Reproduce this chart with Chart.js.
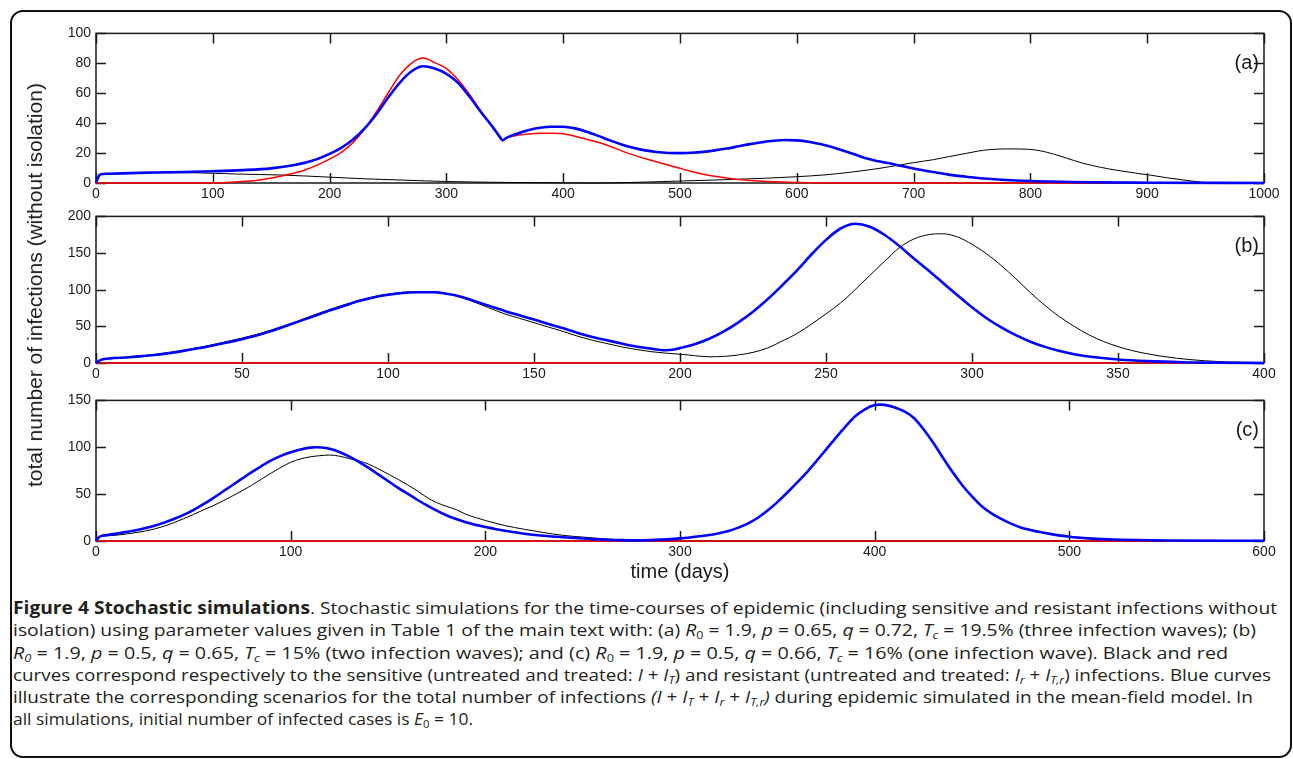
<!DOCTYPE html>
<html>
<head>
<meta charset="utf-8">
<script src="https://cdn.jsdelivr.net/npm/chart.js@4.4.1/dist/chart.umd.min.js"></script>
<style>
html, body { margin: 0; padding: 0; background: #fff; }
body { width: 1293px; height: 759px; position: relative; overflow: hidden; font-family: "Liberation Sans", Arial, sans-serif; color: #1a1a1a; }
#outer { position: absolute; left: 10px; top: 10px; width: 1278px; height: 744px; border: 2px solid #111; border-radius: 13px; }
canvas.panel { position: absolute; left: 0; }
#ytitle { position: absolute; left: 35px; top: 285px; font-size: 21px; white-space: nowrap; transform: translate(-50%, -50%) rotate(-90deg); }
#xtitle { position: absolute; left: 680px; top: 571px; font-size: 20px; white-space: nowrap; transform: translate(-50%, -50%); }
.cap { position: absolute; left: 13px; font-family: "Open Sans", sans-serif; font-size: 17px; line-height: 22px; white-space: nowrap; transform-origin: 0 50%; color: #231f20; }
.cap sub { font-size: 11px; vertical-align: -3px; line-height: 0; }
</style>
</head>
<body>
<div id="outer"></div>
<canvas class="panel" id="chartA"></canvas>
<canvas class="panel" id="chartB"></canvas>
<canvas class="panel" id="chartC"></canvas>
<div id="ytitle">total number of infections (without isolation)</div>
<div id="xtitle">time (days)</div>

<div class="cap" data-end="1277" style="top:597px"><b>Figure 4 Stochastic simulations</b>. Stochastic simulations for the time-courses of epidemic (including sensitive and resistant infections without</div>
<div class="cap" data-end="1256" style="top:619px">isolation) using parameter values given in Table 1 of the main text with: (a) <i>R</i><sub>0</sub> = 1.9, <i>p</i> = 0.65, <i>q</i> = 0.72, <i>T<sub>c</sub></i> = 19.5% (three infection waves); (b)</div>
<div class="cap" data-end="1228" style="top:642px"><i>R<sub>0</sub></i> = 1.9, <i>p</i> = 0.5, <i>q</i> = 0.65, <i>T<sub>c</sub></i> = 15% (two infection waves); and (c) <i>R</i><sub>0</sub> = 1.9, <i>p</i> = 0.5, <i>q</i> = 0.66, <i>T<sub>c</sub></i> = 16% (one infection wave). Black and red</div>
<div class="cap" data-end="1271" style="top:664px">curves correspond respectively to the sensitive (untreated and treated: <i>I</i> + <i>I<sub>T</sub></i>) and resistant (untreated and treated: <i>I<sub>r</sub></i> + <i>I<sub>T,r</sub></i>) infections. Blue curves</div>
<div class="cap" data-end="1253" style="top:686px">illustrate the corresponding scenarios for the total number of infections <i>(I</i> + <i>I<sub>T</sub></i> + <i>I<sub>r</sub></i> + <i>I<sub>T,r</sub>)</i> during epidemic simulated in the mean-field model. In</div>
<div class="cap" data-end="473" style="top:708px">all simulations, initial number of infected cases is <i>E</i><sub>0</sub> = 10.</div>

<script>
// ==========================================
// DATA  (time in days, number of infections)
// ==========================================

// panel (a): R0 = 1.9, p = 0.65, q = 0.72, Tc = 19.5%
const blueA = [[0,0],[2,4],[4,5.8],[10,6.2],[30,6.6],[50,7],[75,7.4],[100,7.9],[125,8.6],[150,9.8],[170,12],[185,14.8],[200,19.5],[210,23.5],[220,29],[230,36.5],[240,46],[250,57],[260,67],[270,74.5],[280,78],[290,76.5],[300,73],[310,67],[320,57.5],[330,47],[340,37],[346,30.5],[348,28.5],[351,30],[360,32.8],[370,35.3],[380,36.9],[390,37.6],[400,37.6],[410,36.5],[420,34.3],[430,31.5],[440,28.5],[450,25.8],[460,23.6],[470,21.8],[480,20.7],[490,20.1],[500,20],[510,20.2],[520,20.8],[530,21.8],[540,23],[550,24.5],[560,26],[570,27.2],[580,28.2],[590,28.7],[600,28.5],[610,27.6],[620,26],[630,24],[640,21.5],[650,19],[660,16.3],[670,14.5],[680,13],[690,11.3],[700,9.7],[710,8.2],[720,6.9],[730,5.6],[740,4.6],[750,3.8],[760,3],[775,2.2],[800,1.3],[850,0.5],[900,0.2],[1000,0]];
const redA = [[0,0],[100,0],[120,0.7],[140,2],[160,4.8],[180,9],[200,16],[210,20.5],[220,27],[230,36],[240,47.5],[250,60],[260,72],[270,80],[280,83.5],[290,80.5],[300,76.5],[310,69],[320,59],[330,47.5],[340,37],[346,30.5],[348,28.5],[351,30],[360,31.8],[370,32.8],[380,33.3],[390,33.3],[400,33],[410,31.3],[420,29.2],[430,27.2],[440,24.6],[450,21.5],[460,18.8],[470,16.4],[480,14.2],[490,12],[500,9.8],[510,7.7],[520,5.9],[530,4.5],[540,3.3],[550,2.4],[560,1.7],[575,1],[600,0.4],[650,0],[1000,0]];
const blackA = [[0,0],[2,4],[4,5.6],[20,6.2],[50,6.9],[85,6.8],[120,6],[160,5.3],[200,3.9],[230,2.8],[260,2],[300,1],[350,0.4],[400,0.1],[430,0],[470,0.6],[500,1.3],[550,2.5],[600,4.2],[625,5.5],[646,7.2],[660,8.6],[671,9.8],[688,12],[700,13.6],[717,15.6],[730,17.6],[745,19.8],[755,21.3],[765,22.3],[780,22.8],[799,22.5],[810,21.3],[820,19.3],[831,16.6],[845,13.2],[860,10.5],[874,8.5],[890,6.6],[903,5.2],[917,3.5],[931,2],[948,0.5],[960,0],[1000,0]];

// panel (b): R0 = 1.9, p = 0.5, q = 0.65, Tc = 15%
const blueB = [[0,0],[1.5,4],[3,5.5],[5,6.3],[10,7.6],[15,9],[20,11],[25,13.5],[30,16.5],[35,20],[40,24],[45,28],[50,32.5],[55,37.5],[60,43.5],[65,50.5],[70,57.5],[75,64.5],[80,71.5],[85,78],[90,84.5],[95,89.5],[100,93],[105,95.5],[110,96.5],[115,96.5],[120,94.5],[125,90.5],[130,84],[135,77.5],[140,71],[145,65],[150,59.3],[155,53.3],[160,47.3],[165,41],[170,35.5],[175,31],[180,26.5],[185,22.5],[190,19.6],[195,17.3],[198,18.3],[200,20.3],[205,25.5],[210,33],[215,43],[220,55.5],[225,70],[230,87],[235,106],[240,126],[245,148],[250,168],[255,183.5],[260,190],[265,186],[270,175],[275,160],[280,143],[285,126.5],[290,109.5],[295,92.5],[300,76],[305,61],[310,48.5],[315,38],[320,29],[325,22],[330,16.5],[335,12],[340,8.8],[350,4.8],[360,2.5],[372,1],[385,0.4],[400,0.1]];
const redB = [[0,0],[100,0],[200,0],[300,0],[400,0]];
const blackB = [[0,0],[1.5,4],[3,5.5],[5,6.5],[10,8],[15,9.5],[20,11.5],[25,14],[30,17.5],[35,21],[40,25],[45,29.5],[50,34],[55,39],[60,45],[65,51.5],[70,58.5],[75,66],[80,73],[85,79.5],[90,85.5],[95,90.5],[100,94],[105,96.5],[110,97.5],[115,97.5],[120,95],[125,89.5],[130,82.5],[135,74.5],[140,67],[145,61],[150,55],[155,49],[160,43],[165,36.5],[170,31],[175,26.5],[180,22],[185,18.5],[190,15.5],[195,13.5],[200,12],[205,10],[210,8.5],[215,9],[220,11],[225,14.5],[230,20.5],[235,30],[240,40],[245,53],[250,67],[255,82],[258,92.5],[262,108],[265,119.5],[270,138.5],[275,157],[280,169],[285,175],[290,176.3],[295,172],[300,162],[305,149],[310,133],[315,115],[320,96],[325,78.5],[330,63],[335,50],[340,38.5],[345,29.5],[350,22.3],[355,16.8],[360,12.6],[365,9.2],[370,6.5],[375,4.5],[380,3],[385,1.8],[390,1.1],[400,0.3]];

// panel (c): R0 = 1.9, p = 0.5, q = 0.66, Tc = 16%
const blueC = [[0,0],[1.5,4],[3,5.5],[5,6.2],[10,7.8],[15,9.5],[20,11.3],[25,13.6],[30,16.3],[35,19.6],[40,23.4],[45,27.8],[50,33],[55,39],[60,45.5],[65,52.5],[70,59.5],[75,66.5],[80,73.5],[85,80],[90,86],[95,90.8],[100,94.6],[105,97.6],[110,99.6],[113,100],[116,99.7],[120,98.3],[125,95],[130,90.3],[135,84.5],[140,78],[145,71],[150,64],[155,57],[160,50.5],[165,44],[170,38],[175,32.5],[180,27.5],[185,23.5],[190,20],[195,17.2],[200,15],[205,12.8],[210,11],[220,7.8],[230,5.6],[240,4],[250,2.7],[260,1.6],[270,0.9],[280,0.7],[290,1.5],[295,2],[300,2.8],[305,3.8],[310,5],[315,6.4],[320,8.3],[325,10.8],[330,14.3],[335,18.8],[340,24.8],[345,32.5],[350,41.5],[355,51.5],[360,62],[365,73],[370,85],[375,97.5],[380,110],[385,122],[390,133],[395,140.5],[400,145],[403,145.5],[405,145.2],[410,142.8],[415,138.5],[420,131.5],[425,119.5],[430,105],[435,89],[440,73.5],[445,59.5],[450,47.5],[455,37],[460,29.5],[465,23.5],[470,18.5],[475,14.5],[480,11.8],[485,9.5],[490,7.6],[500,4.6],[510,2.8],[520,1.8],[535,1],[550,0.6],[600,0.2]];
const redC = [[0,0],[150,0],[300,0],[450,0],[600,0]];
const blackC = [[0,0],[1.5,4],[3,5],[5,5.4],[10,6.1],[15,7.3],[20,8.8],[25,10.5],[30,12.8],[35,15.8],[40,19.5],[45,23.8],[50,28.3],[55,33],[60,37.5],[65,42.5],[70,48],[75,53.5],[80,59.5],[85,66],[90,72.5],[95,78.5],[100,84],[105,87.5],[110,89.8],[115,91],[120,91.7],[125,90.5],[130,88],[135,85.5],[140,82],[145,77],[150,71.5],[155,66],[160,60],[165,53.5],[170,46.5],[175,41],[180,37],[185,33.5],[190,28.5],[195,25],[200,21.9],[210,16.5],[220,12.5],[230,9],[240,6],[250,4.2],[260,2.5],[270,1.2],[280,0.4],[290,0.1],[300,0],[600,0]];

// axes
const panelLabels = ['(a)', '(b)', '(c)'];
const xMaxes = [1000, 400, 600];
const xSteps = [100, 50, 100];
const yMaxes = [100, 200, 150];
const ySteps = [20, 50, 50];

// ==========================================
// LAYOUT (pixel boxes of each panel)
// ==========================================
const PLOT_LEFT = 96;
const PLOT_RIGHT = 1264;
const PAGE_W = 1293;
const boxes = [
    { id: 'chartA', top: 20, height: 185, plotTop: 32, plotBottom: 183 },
    { id: 'chartB', top: 203, height: 180, plotTop: 213, plotBottom: 363 },
    { id: 'chartC', top: 387, height: 175, plotTop: 397, plotBottom: 541 }
];

const TEXT_COLOR = '#1a1a1a';
const TICK_FONT = { family: 'Liberation Sans', size: 14 };

// frame + inward ticks on four sides (under the curves), panel letter on top
const framePlugin = {
    id: 'frame',
    beforeDatasetsDraw(chart) {
        const { ctx, chartArea: a, scales } = chart;
        const len = 10;
        ctx.save();
        ctx.strokeStyle = '#1a1a1a';
        ctx.lineWidth = 1.5;
        ctx.strokeRect(a.left, a.top, a.right - a.left, a.bottom - a.top);
        ctx.beginPath();
        scales.x.ticks.forEach(t => {
            const px = Math.round(scales.x.getPixelForValue(t.value)) + 0.5;
            ctx.moveTo(px, a.bottom); ctx.lineTo(px, a.bottom - len);
            ctx.moveTo(px, a.top); ctx.lineTo(px, a.top + len);
        });
        scales.y.ticks.forEach(t => {
            const py = Math.round(scales.y.getPixelForValue(t.value)) + 0.5;
            ctx.moveTo(a.left, py); ctx.lineTo(a.left + len, py);
            ctx.moveTo(a.right, py); ctx.lineTo(a.right - len, py);
        });
        ctx.stroke();
        ctx.restore();
    },
    afterDraw(chart, args, opts) {
        const { ctx, chartArea: a } = chart;
        ctx.save();
        ctx.fillStyle = TEXT_COLOR;
        ctx.font = '20px "Liberation Sans", Arial, sans-serif';
        ctx.textAlign = 'right';
        ctx.textBaseline = 'middle';
        ctx.fillText(opts.label, a.right - 5, a.top + 30);
        ctx.restore();
    }
};

const toPoints = arr => arr.map(p => ({ x: p[0], y: p[1] }));

const makeSeries = (pts, color, width) => ({
    data: toPoints(pts),
    borderColor: color,
    borderWidth: width,
    pointRadius: 0,
    fill: false,
    cubicInterpolationMode: 'monotone',
    clip: 4
});

const panelData = [
    [blueA, redA, blackA],
    [blueB, redB, blackB],
    [blueC, redC, blackC]
];

boxes.forEach((b, i) => {
    const canvas = document.getElementById(b.id);
    canvas.style.top = b.top + 'px';
    canvas.width = PAGE_W;
    canvas.height = b.height;
    canvas.style.width = PAGE_W + 'px';
    canvas.style.height = b.height + 'px';

    const [blue, red, black] = panelData[i];

    new Chart(canvas.getContext('2d'), {
        type: 'line',
        data: {
            // first dataset is drawn last (on top)
            datasets: [
                makeSeries(blue, '#0000ff', 2.6),
                makeSeries(red, '#ff0000', 1.5),
                makeSeries(black, '#000000', 1)
            ]
        },
        options: {
            responsive: false,
            animation: false,
            events: [],
            layout: {
                padding: { left: 0, right: PAGE_W - PLOT_RIGHT, top: b.plotTop - b.top, bottom: 0 }
            },
            plugins: {
                legend: { display: false },
                tooltip: { enabled: false },
                frame: { label: panelLabels[i] }
            },
            scales: {
                x: {
                    type: 'linear',
                    min: 0,
                    max: xMaxes[i],
                    grid: { display: false, drawTicks: false },
                    border: { display: false },
                    ticks: {
                        stepSize: xSteps[i],
                        autoSkip: false,
                        maxRotation: 0,
                        padding: 3,
                        color: TEXT_COLOR,
                        font: TICK_FONT,
                        callback: v => String(v)
                    },
                    afterFit: s => { s.height = b.height - (b.plotBottom - b.top); }
                },
                y: {
                    min: 0,
                    max: yMaxes[i],
                    grid: { display: false, drawTicks: false },
                    border: { display: false },
                    ticks: {
                        stepSize: ySteps[i],
                        padding: 5,
                        color: TEXT_COLOR,
                        font: TICK_FONT,
                        callback: v => String(v)
                    },
                    afterFit: s => { s.width = PLOT_LEFT; }
                }
            }
        },
        plugins: [framePlugin]
    });
});

// squeeze caption lines to the widths of the original typesetting
document.querySelectorAll('.cap').forEach(el => {
    const target = Number(el.dataset.end) - 13;
    const w = el.getBoundingClientRect().width;
    if (w > 0) el.style.transform = `scaleX(${(target / w).toFixed(4)})`;
});
</script>
</body>
</html>
